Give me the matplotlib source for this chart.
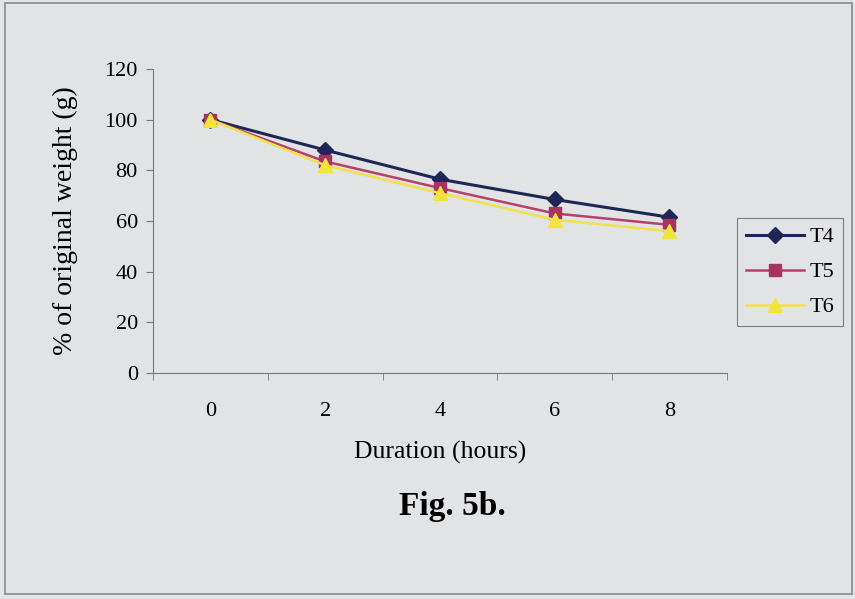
import matplotlib.pyplot as plt
from matplotlib.patches import Rectangle

# Weight loss over time for treatments T4-T6
hours = [0, 2, 4, 6, 8]
t4 = [100, 88, 76.5, 68.5, 61.5]
t5 = [100, 83.5, 73, 63, 58.5]
t6 = [100, 82, 71, 60.5, 56]
yticks = [0, 20, 40, 60, 80, 100, 120]

plt.rcParams['font.family'] = ['Liberation Serif', 'DejaVu Serif']
bg = '#e2e3e5'

fig = plt.figure(figsize=(8.55, 5.99), dpi=100, facecolor=bg)
ax = fig.add_axes([0.179, 0.377, 0.671, 0.508])
ax.set_facecolor(bg)

# later series drawn on top, as in the spreadsheet original
pos = list(range(len(hours)))
ax.plot(pos, t4, color='#1e2656', lw=2.2, marker='D', ms=8, mfc='#1e2656', mec='#1e2656', label='T4', zorder=1)
ax.plot(pos, t5, color='#b8406a', lw=1.8, marker='s', ms=9, mfc='#a8345e', mec='#a8345e', label='T5', zorder=2)
ax.plot(pos, t6, color='#efe24c', lw=1.8, marker='^', ms=10, mfc='#f1e43a', mec='#f1e43a', label='T6', zorder=3)

ax.set_xlim(-0.5, len(hours) - 0.5)
ax.set_ylim(0, 120)
ax.set_yticks(yticks)
ax.set_xticks(pos)
ax.set_xticklabels([str(h) for h in hours])
ax.set_xticks([p - 0.5 for p in range(len(hours) + 1)], minor=True)
ax.tick_params(axis='x', which='major', length=0, pad=21, labelsize=16)
ax.tick_params(axis='x', which='minor', length=5, color='#777777', direction='out')
ax.tick_params(axis='y', length=5, color='#777777', labelsize=16, pad=6)

for s in ['top', 'right']:
    ax.spines[s].set_visible(False)
for s in ['left', 'bottom']:
    ax.spines[s].set_color('#777777')

ax.set_xlabel('Duration (hours)', fontsize=18.5, va='center')
ax.xaxis.set_label_coords(0.5, -0.26)
ax.set_ylabel('% of original weight (g)', fontsize=20, va='center')
ax.yaxis.set_label_coords(-0.153, 0.5)

leg = fig.legend(loc='upper left', bbox_to_anchor=(0.862, 0.636), fontsize=16,
                 frameon=True, fancybox=False, edgecolor='#666666', facecolor=bg,
                 handlelength=2.6, borderpad=0.4, labelspacing=0.65, handletextpad=0.25,
                 borderaxespad=0)
leg.get_frame().set_linewidth(0.8)

fig.text(0.529, 0.155, 'Fig. 5b.', ha='center', va='center', fontsize=24, fontweight='bold')

# outer frame
fig.patches.append(Rectangle((0.006, 0.008), 0.99, 0.987, transform=fig.transFigure,
                             fill=False, edgecolor='#8a8a8a', lw=1.2))

fig.savefig('out.png', dpi=100, facecolor=bg)
